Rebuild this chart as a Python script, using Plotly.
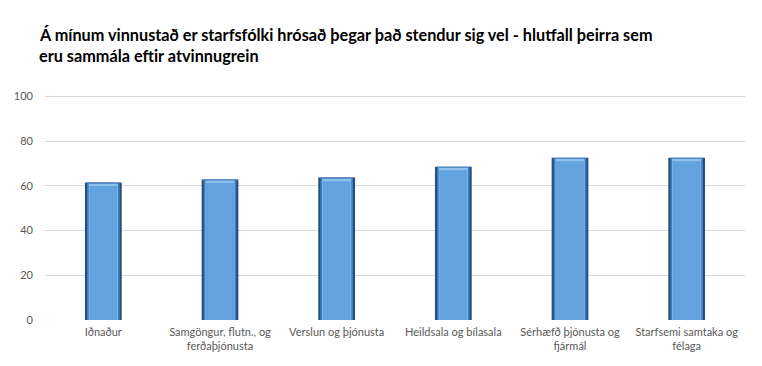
import plotly.graph_objects as go

categories = ["Iðnaður", "Samgöngur, flutn., og<br>ferðaþjónusta", "Verslun og þjónusta",
              "Heildsala og bílasala", "Sérhæfð þjónusta og<br>fjármál", "Starfsemi samtaka og<br>félaga"]
values = [61.5, 62.9, 63.7, 68.6, 72.6, 72.6]
y_ticks = [0, 20, 40, 60, 80, 100]
title_lines = ["Á mínum vinnustað er starfsfólki hrósað þegar það stendur sig vel - hlutfall þeirra sem",
               "eru sammála eftir atvinnugrein"]

fig = go.Figure()
# dark bevel edge
fig.add_trace(go.Bar(x=categories, y=values, width=0.315, marker=dict(color="#24507E", line=dict(width=0)),
                     hoverinfo="skip"))
# mid tone
fig.add_trace(go.Bar(x=categories, y=values, width=0.28, marker=dict(color="#3F7BBE", line=dict(width=0)),
                     hoverinfo="skip"))
# top highlight
fig.add_trace(go.Bar(x=categories, y=[v - 0.5 for v in values], width=0.25, marker=dict(color="#8DC0EE", line=dict(width=0)),
                     hoverinfo="skip"))
# main face
fig.add_trace(go.Bar(x=categories, y=[v - 1.6 for v in values], width=0.24,
                     marker=dict(color="#62A2DF", line=dict(width=0))))

annotations = []
for i, line in enumerate(title_lines):
    annotations.append(dict(
        text="<b>" + line + "</b>", xref="paper", yref="paper", x=-0.0114, y=1.0,
        xanchor="left", yanchor="middle", yshift=58 - 21 * i, align="left", showarrow=False,
        font=dict(family="Lato, sans-serif", size=16.25, color="#000000")))

fig.update_layout(
    width=746, height=350,
    barmode="overlay",
    showlegend=False,
    plot_bgcolor="white", paper_bgcolor="white",
    margin=dict(l=37, r=9, t=84, b=38),
    font=dict(family="Lato, 'Open Sans', sans-serif", color="#595959", size=11),
    xaxis=dict(showgrid=False, showline=False, ticks="", automargin=False, ticklabelstandoff=4,
               tickfont=dict(size=11, color="#595959")),
    yaxis=dict(range=[0, 102], tickvals=y_ticks, showgrid=True, gridcolor="#D9D9D9", gridwidth=1,
               zeroline=False, showline=False, ticks="", ticklabelstandoff=11, automargin=False,
               tickfont=dict(size=11, color="#595959")),
    annotations=annotations,
)
fig.write_html("out.html")
